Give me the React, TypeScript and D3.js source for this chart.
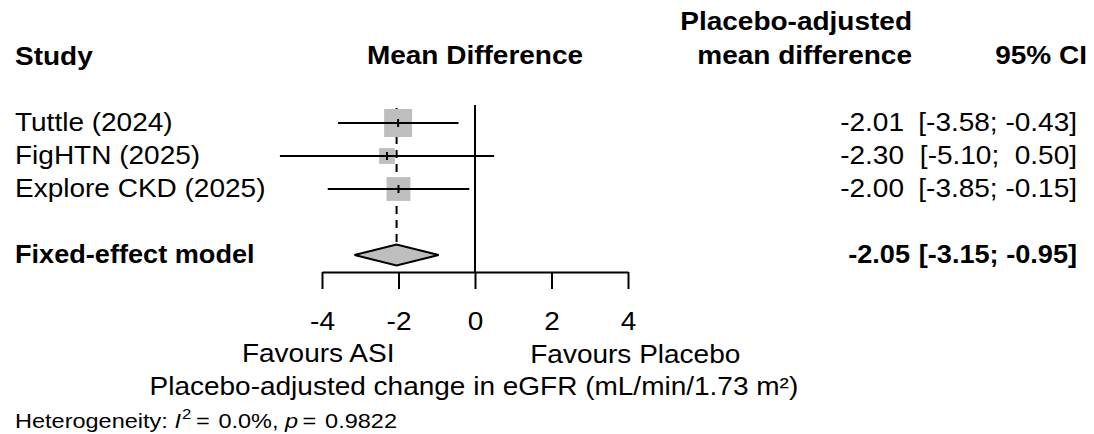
import React, { useEffect, useRef } from "react";
import * as d3 from "d3";

// study rows
const studies = ["Tuttle (2024)", "FigHTN (2025)", "Explore CKD (2025)"];
const meanDiff = [-2.01, -2.3, -2.0];
const ciLower = [-3.58, -5.1, -3.85];
const ciUpper = [-0.43, 0.5, -0.15];

// pooled estimate
const pooledLabel = "Fixed-effect model";
const pooledMean = -2.05;
const pooledLower = -3.15;
const pooledUpper = -0.95;

const xTicks = [-4, -2, 0, 2, 4];
const hetI2 = "0.0%";
const hetP = "0.9822";

const FONT = "'Liberation Sans', Arial, Helvetica, sans-serif";
const SX = 1.12; // text in the picture is a bit wider than tall

const num = (v: number) => v.toFixed(2).padStart(5, " ");
const ci = (lo: number, hi: number) => `[${num(lo)}; ${num(hi)}]`;

function App() {
  const canvas = useRef<HTMLDivElement>(null);

  useEffect(() => {
    const width = 1094;
    const height = 434;
    const axisY = 272;

    d3.select(canvas.current).selectAll("*").remove();

    const svg = d3
      .select(canvas.current)
      .append("svg")
      .attr("width", width)
      .attr("height", height)
      .style("display", "block")
      .style("font-family", FONT);

    const x = d3.scaleLinear().domain([-4, 4]).range([322, 628]);
    const y = d3.scaleLinear().domain([0, 4]).range([123, 255]);

    // weights from standard errors -> square sizes
    const weights = ciLower.map((lo, i) => {
      const se = (ciUpper[i] - lo) / 3.92;
      return 1 / (se * se);
    });
    const size = d3
      .scaleSqrt()
      .domain([0, d3.max(weights) as number])
      .range([0, 28]);

    const label = (
      px: number,
      py: number,
      str: string,
      anchor = "start",
      bold = false,
      fs = 25,
      sx = SX
    ) =>
      svg
        .append("text")
        .attr("transform", `translate(${px},${py}) scale(${sx},1)`)
        .attr("text-anchor", anchor)
        .attr("font-size", fs)
        .attr("font-weight", bold ? "bold" : "normal")
        .style("white-space", "pre")
        .text(str);

    // headers
    label(15, 65, "Study", "start", true);
    label(x(0), 64, "Mean Difference", "middle", true);
    label(912, 30, "Placebo-adjusted", "end", true);
    label(912, 64, "mean difference", "end", true);
    label(1087, 64, "95% CI", "end", true);

    // reference lines
    svg
      .append("line")
      .attr("x1", x(0))
      .attr("x2", x(0))
      .attr("y1", 105)
      .attr("y2", axisY)
      .attr("stroke", "black")
      .attr("stroke-width", 2);

    const diamondH = 21;
    svg
      .append("line")
      .attr("x1", x(pooledMean))
      .attr("x2", x(pooledMean))
      .attr("y1", 108)
      .attr("y2", y(4) - diamondH / 2)
      .attr("stroke", "black")
      .attr("stroke-width", 2)
      .attr("stroke-dasharray", "8,6");

    // studies
    const rows = svg
      .append("g")
      .selectAll("g")
      .data(studies)
      .enter()
      .append("g")
      .attr("transform", (d, i) => `translate(0,${y(i)})`);

    rows
      .append("rect")
      .attr("x", (d, i) => x(meanDiff[i]) - size(weights[i]) / 2)
      .attr("y", (d, i) => -size(weights[i]) / 2)
      .attr("width", (d, i) => size(weights[i]))
      .attr("height", (d, i) => size(weights[i]))
      .attr("fill", "#bebebe");

    rows
      .append("line")
      .attr("x1", (d, i) => x(ciLower[i]))
      .attr("x2", (d, i) => x(ciUpper[i]))
      .attr("stroke", "black")
      .attr("stroke-width", 2);

    rows
      .append("line")
      .attr("x1", (d, i) => x(meanDiff[i]))
      .attr("x2", (d, i) => x(meanDiff[i]))
      .attr("y1", -4)
      .attr("y2", 4)
      .attr("stroke", "black")
      .attr("stroke-width", 2);

    studies.forEach((s, i) => {
      label(15, y(i) + 7.5, s);
      label(904, y(i) + 7.5, num(meanDiff[i]), "end");
      label(1077, y(i) + 7.5, ci(ciLower[i], ciUpper[i]), "end");
    });

    // pooled
    const py = y(4);
    svg
      .append("polygon")
      .attr(
        "points",
        [
          [x(pooledLower), py],
          [x(pooledMean), py - diamondH / 2],
          [x(pooledUpper), py],
          [x(pooledMean), py + diamondH / 2],
        ]
          .map((p) => p.join(","))
          .join(" ")
      )
      .attr("fill", "#bebebe")
      .attr("stroke", "black")
      .attr("stroke-width", 2);

    label(15, py + 8, pooledLabel, "start", true, 25, 1.085);
    label(910, py + 8, num(pooledMean), "end", true, 25, 1.085);
    label(1077, py + 8, ci(pooledLower, pooledUpper), "end", true, 25, 1.085);

    // axis
    const ax = svg
      .append("g")
      .attr("transform", `translate(0,${axisY})`)
      .call(
        d3
          .axisBottom(x)
          .tickValues(xTicks)
          .tickSize(17)
          .tickSizeOuter(0)
          .tickFormat((d) => String(d))
      );
    ax.attr("font-family", FONT).attr("font-size", 25);
    ax.selectAll("path, line").attr("stroke", "black").attr("stroke-width", 2);
    ax.selectAll("text")
      .attr("y", 58)
      .attr("dy", 0)
      .attr("fill", "black")
      .attr("transform", `scale(${SX},1)`);

    label(x(-4.1), 362, "Favours ASI", "middle");
    label(x(4.19), 363, "Favours Placebo", "middle");
    label(x(-0.03), 395, "Placebo-adjusted change in eGFR (mL/min/1.73 m\u00b2)", "middle");

    // heterogeneity
    const het = label(15, 428, "", "start", false, 21);
    het.append("tspan").text("Heterogeneity: ");
    het.append("tspan").attr("font-style", "italic").text("I");
    het.append("tspan").attr("font-size", 15).attr("dy", -9).attr("dx", 1).text("2");
    het.append("tspan").attr("dy", 9).attr("dx", 4).text("=");
    het.append("tspan").attr("dx", 2).text(` ${hetI2}, `);
    het.append("tspan").attr("font-style", "italic").text("p");
    het.append("tspan").attr("dx", 4).text("=");
    het.append("tspan").attr("dx", 2).text(` ${hetP}`);
  }, []);

  return (
    <div
      ref={canvas}
      style={{ position: "absolute", left: 0, top: 0, background: "white" }}
    ></div>
  );
}

export default App;
